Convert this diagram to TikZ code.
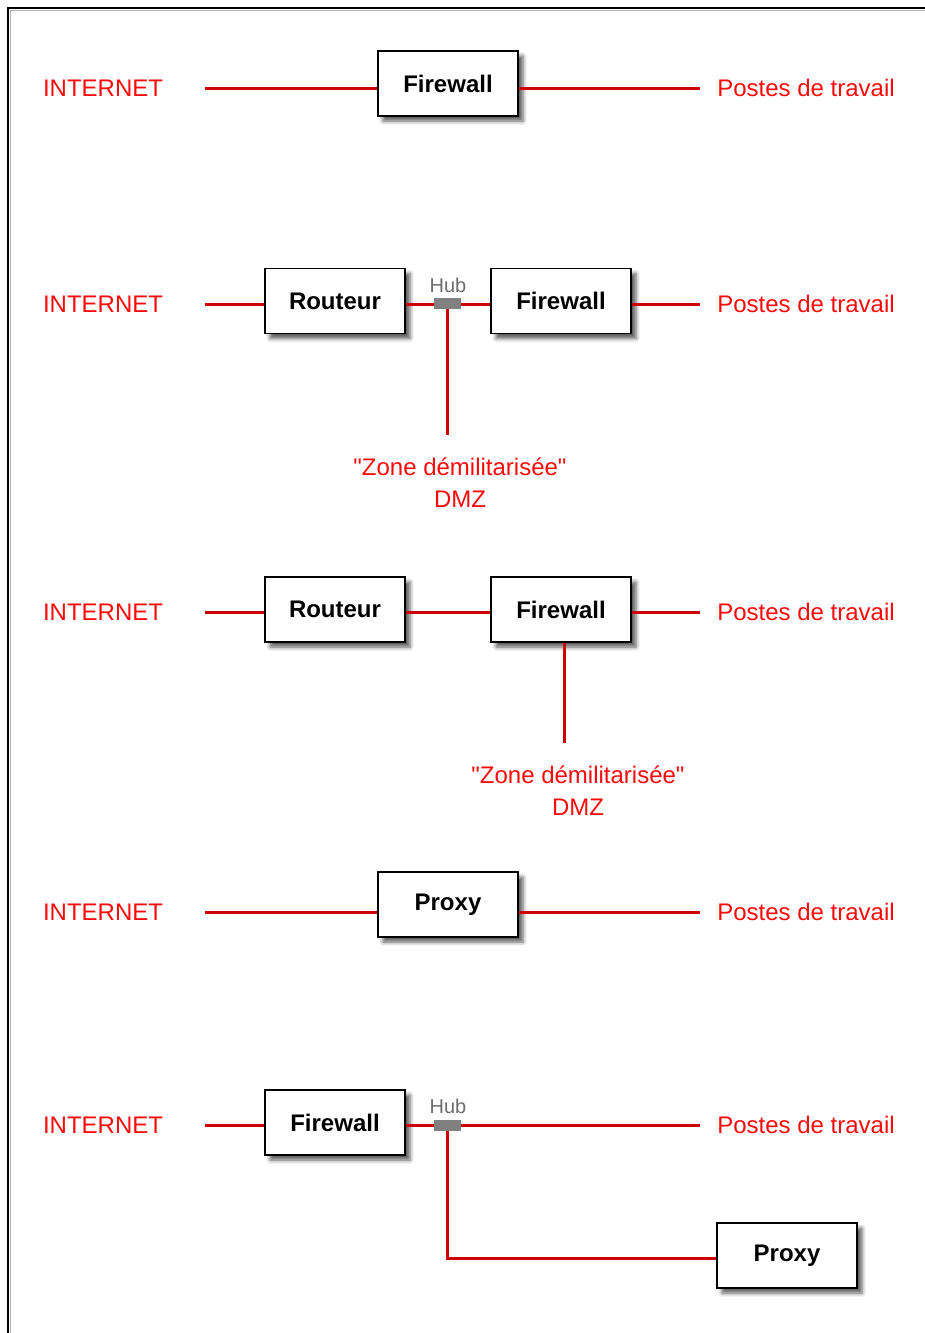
\documentclass[tikz,border=0pt]{standalone}
\usepackage{fontspec}
\setmainfont{Liberation Sans}
\newfontfamily\plainsans{Liberation Sans}
\usetikzlibrary{shadows.blur}
\definecolor{linered}{RGB}{204,0,0}
\definecolor{textred}{RGB}{250,10,10}
\definecolor{hubgray}{RGB}{128,128,128}
\begin{document}
\begin{tikzpicture}[x=1pt,y=-1pt,
  box/.style={draw=black,line width=1.6pt,fill=white,minimum width=140pt,minimum height=65pt,inner sep=0pt,
    font=\fontsize{24}{28}\selectfont\bfseries,
    blur shadow={shadow xshift=5pt,shadow yshift=-5pt,shadow blur radius=4pt,shadow opacity=65}},
  lbl/.style={text=textred,font=\plainsans\fontsize{24}{32}\selectfont,inner sep=0pt,align=center},
  hub/.style={fill=hubgray,minimum width=27pt,minimum height=11pt,inner sep=0pt},
  hublbl/.style={text=hubgray!85!black,font=\fontsize{20}{22}\selectfont,inner sep=0pt},
  wire/.style={draw=linered,line width=3pt}]
\useasboundingbox (0,0) rectangle (925,1333);
% frame
\draw[line width=2.2pt] (8,1333) -- (8,8) -- (925,8);
\draw[line width=1pt,gray!60] (10.5,1333) -- (10.5,10.5) -- (925,10.5);

% Row 1
\node[lbl] (in1) at (103,88) {INTERNET};
\node[lbl] (pt1) at (806,88) {Postes de travail};
\node[box] (fw1) at (448,83.5) {Firewall};
\coordinate (a1) at (205,88);
\coordinate (b1) at (700,88);
\draw[wire] (a1) -- (a1 -| fw1.west);
\draw[wire] (b1 -| fw1.east) -- (b1);

% Row 2
\node[lbl] (in2) at (103,304) {INTERNET};
\node[lbl] (pt2) at (806,304) {Postes de travail};
\node[box] (rt2) at (335,301) {Routeur};
\node[box] (fw2) at (561,301) {Firewall};
\node[hub] (hub2) at (447.5,303.5) {};
\node[hublbl] (hl2) at (448,285) {Hub};
\node[lbl] (dmz2) at (460,483) {"Zone démilitarisée"\\DMZ};
\coordinate (a2) at (205,304);
\coordinate (b2) at (700,304);
\coordinate (c2) at (447,435);
\draw[wire] (a2) -- (a2 -| rt2.west);
\draw[wire] (a2 -| rt2.east) -- (a2 -| hub2.west);
\draw[wire] (a2 -| hub2.east) -- (a2 -| fw2.west);
\draw[wire] (b2 -| fw2.east) -- (b2);
\draw[wire] (c2 |- hub2.south) -- (c2);

% Row 3
\node[lbl] (in3) at (103,612) {INTERNET};
\node[lbl] (pt3) at (806,612) {Postes de travail};
\node[box] (rt3) at (335,609.5) {Routeur};
\node[box] (fw3) at (561,609.5) {Firewall};
\node[lbl] (dmz3) at (578,791) {"Zone démilitarisée"\\DMZ};
\coordinate (a3) at (205,612);
\coordinate (b3) at (700,612);
\coordinate (c3) at (564,743);
\draw[wire] (a3) -- (a3 -| rt3.west);
\draw[wire] (a3 -| rt3.east) -- (a3 -| fw3.west);
\draw[wire] (b3 -| fw3.east) -- (b3);
\draw[wire] (c3 |- fw3.south) -- (c3);

% Row 4
\node[lbl] (in4) at (103,912) {INTERNET};
\node[lbl] (pt4) at (806,912) {Postes de travail};
\node[box] (px4) at (448,904.5) {Proxy};
\coordinate (a4) at (205,912);
\coordinate (b4) at (700,912);
\draw[wire] (a4) -- (a4 -| px4.west);
\draw[wire] (b4 -| px4.east) -- (b4);

% Row 5
\node[lbl] (in5) at (103,1125) {INTERNET};
\node[lbl] (pt5) at (806,1125) {Postes de travail};
\node[box] (fw5) at (335,1122.5) {Firewall};
\node[hub] (hub5) at (447.5,1125) {};
\node[hublbl] (hl5) at (448,1106) {Hub};
\node[box] (px5) at (787,1255.5) {Proxy};
\coordinate (a5) at (205,1125);
\coordinate (b5) at (700,1125);
\coordinate (c5) at (447,1258);
\draw[wire] (a5) -- (a5 -| fw5.west);
\draw[wire] (a5 -| fw5.east) -- (a5 -| hub5.west);
\draw[wire] (a5 -| hub5.east) -- (b5);
\draw[wire] (c5 |- hub5.south) -- (c5) -- (c5 -| px5.west);
\end{tikzpicture}
\end{document}
